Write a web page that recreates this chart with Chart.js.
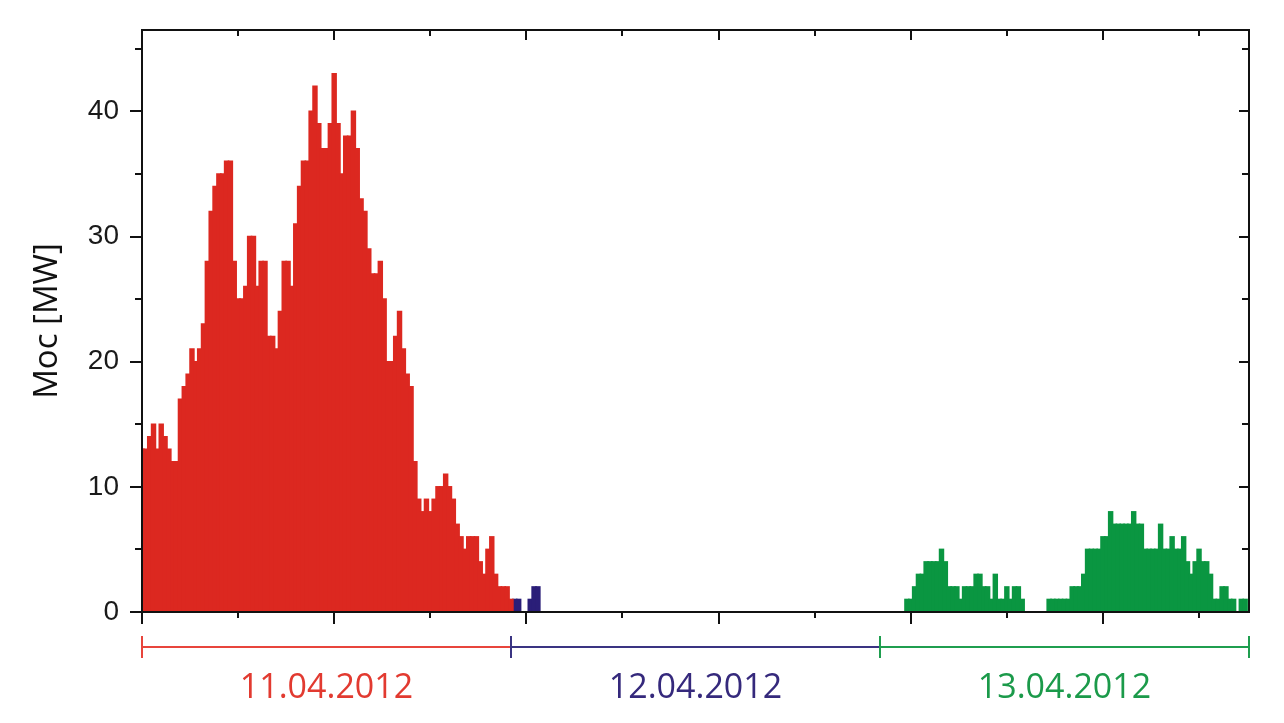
<!DOCTYPE html>
<html>
<head>
<meta charset="utf-8">
<script src="https://cdn.jsdelivr.net/npm/chart.js@4.4.1/dist/chart.umd.min.js"></script>
<style>
  html, body { margin: 0; padding: 0; background: #fff; }
  #wrap { width: 1284px; height: 723px; }
</style>
</head>
<body>
<div id="wrap"><canvas id="chart" width="1284" height="723"></canvas></div>
<script>
// 15-min samples, x = sample index
const day1Start = 0;
const day1Values = [
  13, 13, 14, 15, 13, 15, 14, 13, 12, 12,
  17, 18, 19, 21, 20, 21, 23, 28, 32, 34,
  35, 35, 36, 36, 28, 25, 25, 26, 30, 30,
  26, 28, 28, 22, 22, 21, 24, 28, 28, 26,
  31, 34, 36, 36, 40, 42, 39, 37, 37, 39,
  43, 39, 35, 38, 38, 40, 37, 33, 32, 29,
  27, 27, 28, 25, 20, 20, 22, 24, 21, 19,
  18, 12, 9, 8, 9, 8, 9, 10, 10, 11,
  10, 9, 7, 6, 5, 6, 6, 6, 4, 3,
  5, 6, 3, 2, 2, 2, 1
];

const day2Start = 97;
const day2Values = [
  1, 1, 0, 0, 1, 2, 2, 0, 0, 0,
  0, 0, 0, 0, 0, 0, 0, 0, 0, 0,
  0, 0, 0, 0, 0, 0, 0, 0, 0, 0,
  0, 0, 0, 0, 0, 0, 0, 0, 0, 0,
  0, 0, 0, 0, 0, 0, 0, 0, 0, 0,
  0, 0, 0, 0, 0, 0, 0, 0, 0, 0,
  0, 0, 0, 0, 0, 0, 0, 0, 0, 0,
  0, 0, 0, 0, 0, 0, 0, 0, 0, 0,
  0, 0, 0, 0, 0, 0, 0, 0, 0, 0,
  0, 0, 0, 0, 0, 0
];

const day3Start = 193;
const day3Values = [
  0, 0, 0, 0, 0, 0, 1, 1, 2, 3,
  3, 4, 4, 4, 4, 5, 4, 2, 2, 2,
  1, 2, 2, 2, 3, 3, 2, 2, 1, 3,
  1, 1, 2, 1, 2, 2, 1, 0, 0, 0,
  0, 0, 0, 1, 1, 1, 1, 1, 1, 2,
  2, 2, 3, 5, 5, 5, 5, 6, 6, 8,
  7, 7, 7, 7, 7, 8, 7, 7, 5, 5,
  5, 5, 7, 5, 5, 6, 5, 5, 6, 4,
  3, 4, 5, 4, 4, 3, 1, 1, 2, 2,
  1, 1, 0, 1, 1, 0
];

const dayLabels = ["11.04.2012", "12.04.2012", "13.04.2012"];
const dayBounds = [0, 96, 192, 288];
const barColors = ["#dc2820", "#2a1e78", "#0a9641"];
const lineColors = ["#e8453c", "#3a3482", "#1f9e4f"];
const textColors = ["#e23a30", "#35297c", "#1b9a4a"];

const yTicks = [0, 5, 10, 15, 20, 25, 30, 35, 40, 45];
const xTicks = [0, 25, 50, 75, 100, 125, 150, 175, 200, 225, 250, 275];

function toPoints(start, values) {
    return values.map((v, i) => ({ x: start + i, y: v }));
}

/* =========================
   frame, ticks, day brackets
========================= */
const framePlugin = {
    id: "frame",
    afterDatasetsDraw(chart) {
        const { ctx, chartArea: a } = chart;
        const x = chart.scales.x;
        const y = chart.scales.y;

        ctx.save();
        ctx.strokeStyle = "#111";
        ctx.lineWidth = 2;
        ctx.strokeRect(a.left, a.top, a.right - a.left, a.bottom - a.top);

        ctx.beginPath();
        yTicks.forEach(v => {
            const py = Math.round(y.getPixelForValue(v));
            const major = v % 10 === 0;
            ctx.moveTo(a.left - (major ? 12 : 7), py);
            ctx.lineTo(a.left, py);
            ctx.moveTo(a.right, py);
            ctx.lineTo(a.right - (major ? 10 : 7), py);
        });
        xTicks.forEach(v => {
            const px = Math.round(x.getPixelForValue(v));
            const major = v % 50 === 0;
            ctx.moveTo(px, a.bottom);
            ctx.lineTo(px, a.bottom + (major ? 12 : 6));
            ctx.moveTo(px, a.top);
            ctx.lineTo(px, a.top + (major ? 10 : 6));
        });
        ctx.stroke();

        // day brackets
        const lineY = 647;
        for (let d = 0; d < dayLabels.length; d++) {
            const x0 = x.getPixelForValue(dayBounds[d]);
            const x1 = x.getPixelForValue(dayBounds[d + 1]);
            ctx.strokeStyle = lineColors[d];
            ctx.lineWidth = 2;
            ctx.beginPath();
            ctx.moveTo(x0, lineY);
            ctx.lineTo(x1, lineY);
            ctx.moveTo(x0, lineY - 11);
            ctx.lineTo(x0, lineY + 11);
            if (d === dayLabels.length - 1) {
                ctx.moveTo(x1, lineY - 11);
                ctx.lineTo(x1, lineY + 11);
            }
            ctx.stroke();

            ctx.fillStyle = textColors[d];
            ctx.font = "34px 'Open Sans'";
            ctx.textAlign = "center";
            ctx.textBaseline = "alphabetic";
            ctx.fillText(dayLabels[d], (x0 + x1) / 2, 698);
        }
        ctx.restore();
    }
};

const chart = new Chart(document.getElementById("chart"), {
    type: "bar",
    data: {
        datasets: [
            { data: toPoints(day1Start, day1Values), backgroundColor: barColors[0] },
            { data: toPoints(day2Start, day2Values), backgroundColor: barColors[1] },
            { data: toPoints(day3Start, day3Values), backgroundColor: barColors[2] }
        ]
    },
    options: {
        responsive: false,
        devicePixelRatio: 1,
        animation: false,
        layout: { padding: { top: 30, right: 35, left: 0, bottom: 0 } },
        datasets: {
            bar: {
                barPercentage: 1,
                categoryPercentage: 1,
                borderWidth: 0,
                inflateAmount: 0.8
            }
        },
        plugins: {
            legend: { display: false },
            tooltip: { enabled: false }
        },
        scales: {
            x: {
                type: "linear",
                min: 0,
                max: 288,
                offset: false,
                stacked: true,
                grid: { display: false, drawTicks: false, offset: false },
                border: { display: false },
                ticks: { display: false },
                afterFit: s => {
                    s.height = 111;
                    s.paddingLeft = 0;
                    s.paddingRight = 0;
                }
            },
            y: {
                min: 0,
                max: 46.5,
                stacked: true,
                grid: { display: false, drawTicks: false },
                border: { display: false },
                ticks: {
                    stepSize: 5,
                    includeBounds: false,
                    padding: 23,
                    color: "#1a1a1a",
                    font: { family: "'Liberation Sans', Arial", size: 28 },
                    callback: v => (v % 10 === 0 ? v : "")
                },
                title: {
                    display: true,
                    text: "Moc [MW]",
                    color: "#111",
                    font: { family: "'Open Sans'", size: 33, lineHeight: 1.2 },
                    padding: { top: 28, bottom: 0 }
                },
                afterFit: s => {
                    s.width = 142;
                    s.paddingTop = 0;
                    s.paddingBottom = 0;
                }
            }
        }
    },
    plugins: [framePlugin]
});
</script>
</body>
</html>
